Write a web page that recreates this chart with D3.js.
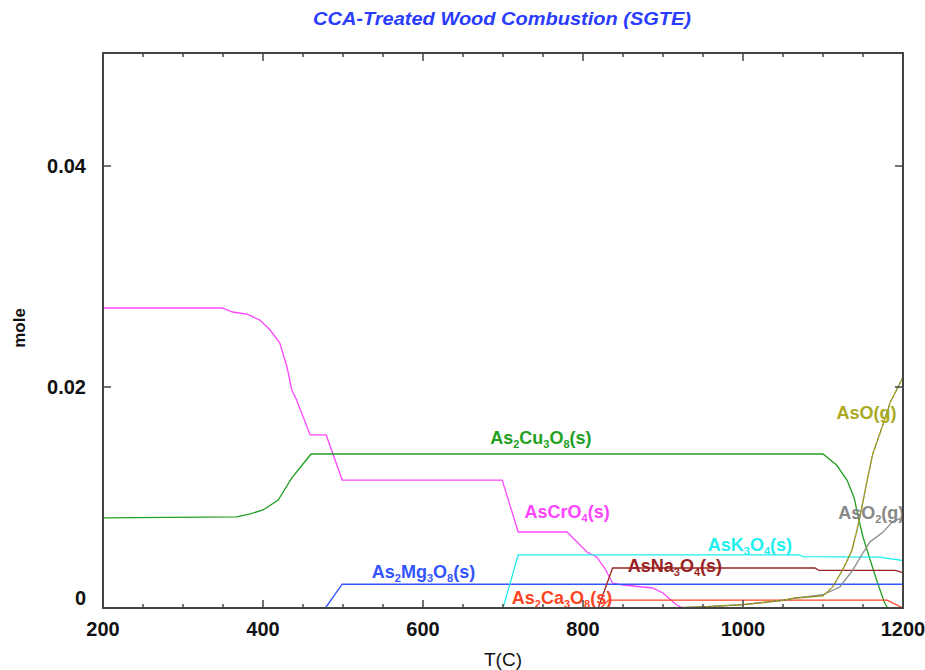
<!DOCTYPE html>
<html>
<head>
<meta charset="utf-8">
<script src="https://cdn.jsdelivr.net/npm/d3@7"></script>
<style>
  body { margin: 0; background: #fff; }
  text { font-family: "Liberation Sans Narrow", "Arial Narrow", "Liberation Sans", sans-serif; font-weight: bold; }
</style>
</head>
<body>
<div id="chart"></div>
<script>
// data: [T (C), mole]
const ascro4 = [[200,0.02715],[349,0.02715],[362,0.02679],[380,0.0266],[396,0.02606],[409,0.02516],[421,0.02398],[430,0.02181],[436,0.01973],[442,0.01882],[459,0.01566],[479,0.01566],[499,0.01158],[699,0.01158],[719,0.00688],[780,0.00688],[805,0.00507],[817,0.00462],[827,0.00362],[837,0.00226],[850,0.00208],[887,0.00181],[900,0.00136],[917,0.00027],[925,0]];
const as2cu3o8 = [[200,0.00815],[367,0.00824],[384,0.00851],[400,0.00887],[419,0.00977],[436,0.01177],[446,0.01267],[460,0.01394],[1100,0.01394],[1117,0.01294],[1130,0.01158],[1139,0.00995],[1144,0.00824],[1150,0.00643],[1159,0.00434],[1167,0.00253],[1177,0.00045],[1181,0]];
const as2mg3o8 = [[478,0],[499,0.00215],[1200,0.00215]];
const ask3o4 = [[700,0],[719,0.0048],[1070,0.0048],[1075,0.00465],[1170,0.0046],[1200,0.0043]];
const asna3o4 = [[819,0],[837,0.00362],[1090,0.00362],[1095,0.0034],[1190,0.0034],[1200,0.0032]];
const as2ca3o8 = [[822,0],[832,0.00072],[1180,0.00072],[1200,0]];
const aso = [[910,0],[950,0.0001],[1000,0.0003],[1050,0.0007],[1065,0.0009],[1100,0.0011],[1112,0.0019],[1125,0.0035],[1136,0.0052],[1142,0.0069],[1149,0.0093],[1155,0.0115],[1162,0.0139],[1174,0.0164],[1184,0.0186],[1200,0.0209]];
const aso2 = [[910,0],[950,0.0001],[1000,0.0003],[1050,0.0007],[1065,0.0009],[1100,0.0012],[1121,0.0019],[1137,0.0034],[1150,0.005],[1159,0.006],[1174,0.0068],[1187,0.0078],[1200,0.0082]];

const xMajorTicks = [200, 400, 600, 800, 1000, 1200];
const xMinorTicks = d3.range(250, 1200, 50).filter(t => t % 200 !== 0);
const yTicks = [0, 0.02, 0.04];
const yTickLabels = ["0", "0.02", "0.04"];

// species: name parts alternate normal / subscript
const species = [
  {data: ascro4,   color: "#ff44ff", parts: ["AsCrO", "4", "(s)"],                 at: [727, 0.00814]},
  {data: as2cu3o8, color: "#22a022", parts: ["As", "2", "Cu", "3", "O", "8", "(s)"], at: [684, 0.01484]},
  {data: as2mg3o8, color: "#3355ff", parts: ["As", "2", "Mg", "3", "O", "8", "(s)"], at: [536, 0.0027]},
  {data: ask3o4,   color: "#22eeee", parts: ["AsK", "3", "O", "4", "(s)"],          at: [956, 0.0052]},
  {data: as2ca3o8, color: "#ff4422", parts: ["As", "2", "Ca", "3", "O", "8", "(s)"], at: [711, 0.00036]},
  {data: asna3o4,  color: "#992222", parts: ["AsNa", "3", "O", "4", "(s)"],         at: [856, 0.00326]},
  {data: aso2,     color: "#888888", parts: ["AsO", "2", "(g)"],                    at: [1119, 0.00805]},
  {data: aso,      color: "#aaaa22", parts: ["AsO(g)"],                             at: [1117, 0.0171], dashed: true}
];

const margin = {top: 53, right: 22, bottom: 62, left: 103},
  width = 925 - margin.left - margin.right,
  height = 670 - margin.top - margin.bottom;

const svg = d3.select("#chart")
  .append("svg")
    .attr("width", 925)
    .attr("height", 670);

// title
svg.append("text")
  .attr("x", 502)
  .attr("y", 25)
  .attr("text-anchor", "middle")
  .style("font-family", "'Liberation Sans', Arial, sans-serif")
  .style("font-style", "italic")
  .attr("font-size", 19)
  .attr("textLength", 378)
  .attr("lengthAdjust", "spacingAndGlyphs")
  .attr("fill", "#2a3cff")
  .text("CCA-Treated Wood Combustion (SGTE)");

const g = svg.append("g")
  .attr("transform", `translate(${margin.left}, ${margin.top})`);

const x = d3.scaleLinear().domain([200, 1200]).range([0, width]);
const y = d3.scaleLinear().domain([0, 0.05023]).range([height, 0]);

// lines
const line = d3.line().x(d => x(d[0])).y(d => y(d[1]));

species.forEach(s => {
  if (s.dashed) {
    g.append("path")
      .attr("d", line(s.data))
      .attr("fill", "none")
      .attr("stroke", "#666633")
      .attr("stroke-width", 1);
    g.append("path")
      .attr("d", line(s.data))
      .attr("fill", "none")
      .attr("stroke", s.color)
      .attr("stroke-width", 1.6)
      .attr("stroke-dasharray", "3,2");
  } else {
    g.append("path")
      .attr("d", line(s.data))
      .attr("fill", "none")
      .attr("stroke", s.color)
      .attr("stroke-width", 1.3);
  }
});

// labels with subscripts
species.forEach(s => {
  const t = g.append("text")
    .attr("x", x(s.at[0]))
    .attr("y", y(s.at[1]))
    .attr("font-size", 18)
    .attr("fill", s.color);
  s.parts.forEach((p, i) => {
    const sub = i % 2 === 1;
    t.append("tspan")
      .attr("font-size", sub ? 11 : 18)
      .attr("dy", i === 0 ? 0 : (sub ? 4 : -4))
      .text(p);
  });
});

// frame
const axisColor = "#444";
g.append("rect")
  .attr("width", width)
  .attr("height", height)
  .attr("fill", "none")
  .attr("stroke", axisColor)
  .attr("stroke-width", 2);

// x ticks, bottom and top, pointing inwards
const tickG = g.append("g").attr("stroke", axisColor).attr("stroke-width", 1.5);
xMajorTicks.concat(xMinorTicks).forEach(t => {
  const len = xMajorTicks.includes(t) ? 8 : 4;
  tickG.append("line").attr("x1", x(t)).attr("x2", x(t)).attr("y1", height).attr("y2", height - len);
  tickG.append("line").attr("x1", x(t)).attr("x2", x(t)).attr("y1", 0).attr("y2", len);
});
yTicks.forEach(t => {
  tickG.append("line").attr("x1", 0).attr("x2", 8).attr("y1", y(t)).attr("y2", y(t));
  tickG.append("line").attr("x1", width).attr("x2", width - 8).attr("y1", y(t)).attr("y2", y(t));
});

// tick labels
g.selectAll(".xl")
  .data(xMajorTicks)
  .join("text")
    .attr("x", d => x(d))
    .attr("y", height + 28)
    .attr("text-anchor", "middle")
    .attr("font-size", 20)
    .attr("fill", "#111")
    .text(d => d);

g.selectAll(".yl")
  .data(yTicks)
  .join("text")
    .attr("x", -17)
    .attr("y", d => d === 0 ? y(d) - 10 : y(d))
    .attr("dy", "0.35em")
    .attr("text-anchor", "end")
    .attr("font-size", 20)
    .attr("fill", "#111")
    .text((d, i) => yTickLabels[i]);

// axis titles
svg.append("text")
  .attr("x", 503)
  .attr("y", 666)
  .attr("text-anchor", "middle")
  .attr("font-size", 19)
  .attr("fill", "#111")
  .style("font-weight", "normal")
  .text("T(C)");

svg.append("text")
  .attr("transform", "translate(25, 328) rotate(-90)")
  .attr("text-anchor", "middle")
  .attr("font-size", 17)
  .attr("fill", "#111")
  .text("mole");
</script>
</body>
</html>
